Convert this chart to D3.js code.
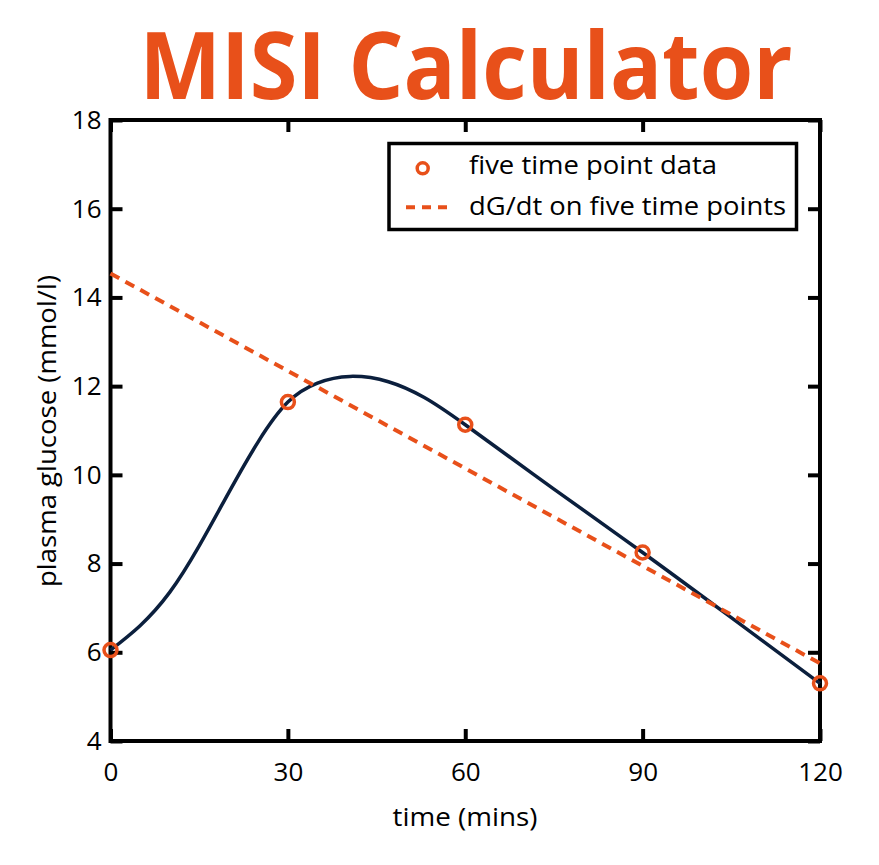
<!DOCTYPE html>
<html><head><meta charset="utf-8">
<script src="https://cdn.jsdelivr.net/npm/d3@7"></script>
<style>body{margin:0;background:#fff} svg{display:block}</style>
</head><body><svg id="c" width="879" height="865"></svg>
<script>
const titleText = "MISI Calculator";
const timePoints = [0, 30, 60, 90, 120];
const glucose = [6.05, 11.64, 11.13, 8.25, 5.30];
const curveTime = [0, 5, 10, 15, 20, 25, 30, 35, 40.5, 47, 53, 60, 75, 90, 105, 120];
const curveGlucose = [6.05, 6.6, 7.35, 8.4, 9.6, 10.75, 11.64, 12.07, 12.22, 12.1, 11.75, 11.13, 9.68, 8.25, 6.78, 5.30];
const trendTime = [0, 120];
const trendGlucose = [14.54, 5.75];
const xTicks = [0, 30, 60, 90, 120];
const yTicks = [4, 6, 8, 10, 12, 14, 16, 18];
const legendLabels = ["five time point data", "dG/dt on five time points"];
const xLabel = "time (mins)";
const yLabel = "plasma glucose (mmol/l)";

const ORANGE = "#E8501A", NAVY = "#0B1F3D", FONT = "'Open Sans', 'Noto Sans', sans-serif";
const svg = d3.select("#c");
const L = 110.5, R = 820, T = 120, B = 741;
const x = d3.scaleLinear().domain([0, 120]).range([L, R]);
const y = d3.scaleLinear().domain([4, 18]).range([B, T]);

svg.append("text").attr("x", 466).attr("y", 99).attr("text-anchor", "middle")
  .attr("font-family", FONT).attr("font-weight", 700).attr("font-size", 93)
  .attr("fill", ORANGE).attr("textLength", 653).attr("lengthAdjust", "spacingAndGlyphs")
  .text(titleText);

function styleAxis(g, labels) {
  g.select(".domain").remove();
  g.selectAll(".tick line").attr("stroke", "#000").attr("stroke-width", 4);
  g.selectAll(".tick text").attr("font-family", FONT).attr("font-size", 26).attr("fill", "#000");
  if (!labels) g.selectAll(".tick text").remove();
}
svg.append("g").attr("transform", `translate(0,${B})`)
  .call(d3.axisBottom(x).tickValues(xTicks).tickSize(-12).tickPadding(22).tickFormat(d3.format("d")))
  .call(g => styleAxis(g, true));
svg.append("g").attr("transform", `translate(${L},0)`)
  .call(d3.axisLeft(y).tickValues(yTicks).tickSize(-12).tickPadding(9).tickFormat(d3.format("d")))
  .call(g => styleAxis(g, true));
svg.append("g").attr("transform", `translate(0,${T})`)
  .call(d3.axisTop(x).tickValues(xTicks).tickSize(-12))
  .call(g => styleAxis(g, false));
svg.append("g").attr("transform", `translate(${R},0)`)
  .call(d3.axisRight(y).tickValues(yTicks).tickSize(-12))
  .call(g => styleAxis(g, false));

svg.append("rect").attr("x", L).attr("y", T).attr("width", R - L).attr("height", B - T)
  .attr("fill", "none").attr("stroke", "#000").attr("stroke-width", 4);

const curveData = curveTime.map((t, i) => [t, curveGlucose[i]]);
svg.append("path").datum(curveData)
  .attr("d", d3.line().x(d => x(d[0])).y(d => y(d[1])).curve(d3.curveNatural))
  .attr("fill", "none").attr("stroke", NAVY).attr("stroke-width", 3.5);

const trendData = trendTime.map((t, i) => [t, trendGlucose[i]]);
svg.append("path").datum(trendData)
  .attr("d", d3.line().x(d => x(d[0])).y(d => y(d[1])))
  .attr("fill", "none").attr("stroke", ORANGE).attr("stroke-width", 4).attr("stroke-dasharray", "10,7");

svg.selectAll("circle.pt").data(timePoints.map((t, i) => [t, glucose[i]])).join("circle")
  .attr("class", "pt").attr("cx", d => x(d[0])).attr("cy", d => y(d[1])).attr("r", 6.5)
  .attr("fill", "none").attr("stroke", ORANGE).attr("stroke-width", 3.5);

// legend
const lg = svg.append("g");
lg.append("rect").attr("x", 389).attr("y", 143.5).attr("width", 407.5).attr("height", 86)
  .attr("fill", "#fff").attr("stroke", "#000").attr("stroke-width", 3.5);
lg.append("circle").attr("cx", 422.7).attr("cy", 168.3).attr("r", 5.5)
  .attr("fill", "none").attr("stroke", ORANGE).attr("stroke-width", 3.5);
lg.append("line").attr("x1", 406).attr("x2", 449).attr("y1", 207.3).attr("y2", 207.3)
  .attr("stroke", ORANGE).attr("stroke-width", 4).attr("stroke-dasharray", "9,7");
const legendWidths = [248, 317];
lg.selectAll("text").data(legendLabels).join("text")
  .attr("x", 469).attr("y", (d, i) => i === 0 ? 174 : 214.5)
  .attr("font-family", FONT).attr("font-size", 25).attr("fill", "#000")
  .attr("textLength", (d, i) => legendWidths[i]).attr("lengthAdjust", "spacingAndGlyphs")
  .text(d => d);

svg.append("text").attr("x", 465).attr("y", 826).attr("text-anchor", "middle")
  .attr("font-family", FONT).attr("font-size", 26).attr("fill", "#000")
  .attr("textLength", 145).attr("lengthAdjust", "spacingAndGlyphs").text(xLabel);
svg.append("text").attr("transform", "translate(56,431) rotate(-90)").attr("text-anchor", "middle")
  .attr("font-family", FONT).attr("font-size", 26).attr("fill", "#000")
  .attr("textLength", 312).attr("lengthAdjust", "spacingAndGlyphs").text(yLabel);
</script></body></html>
